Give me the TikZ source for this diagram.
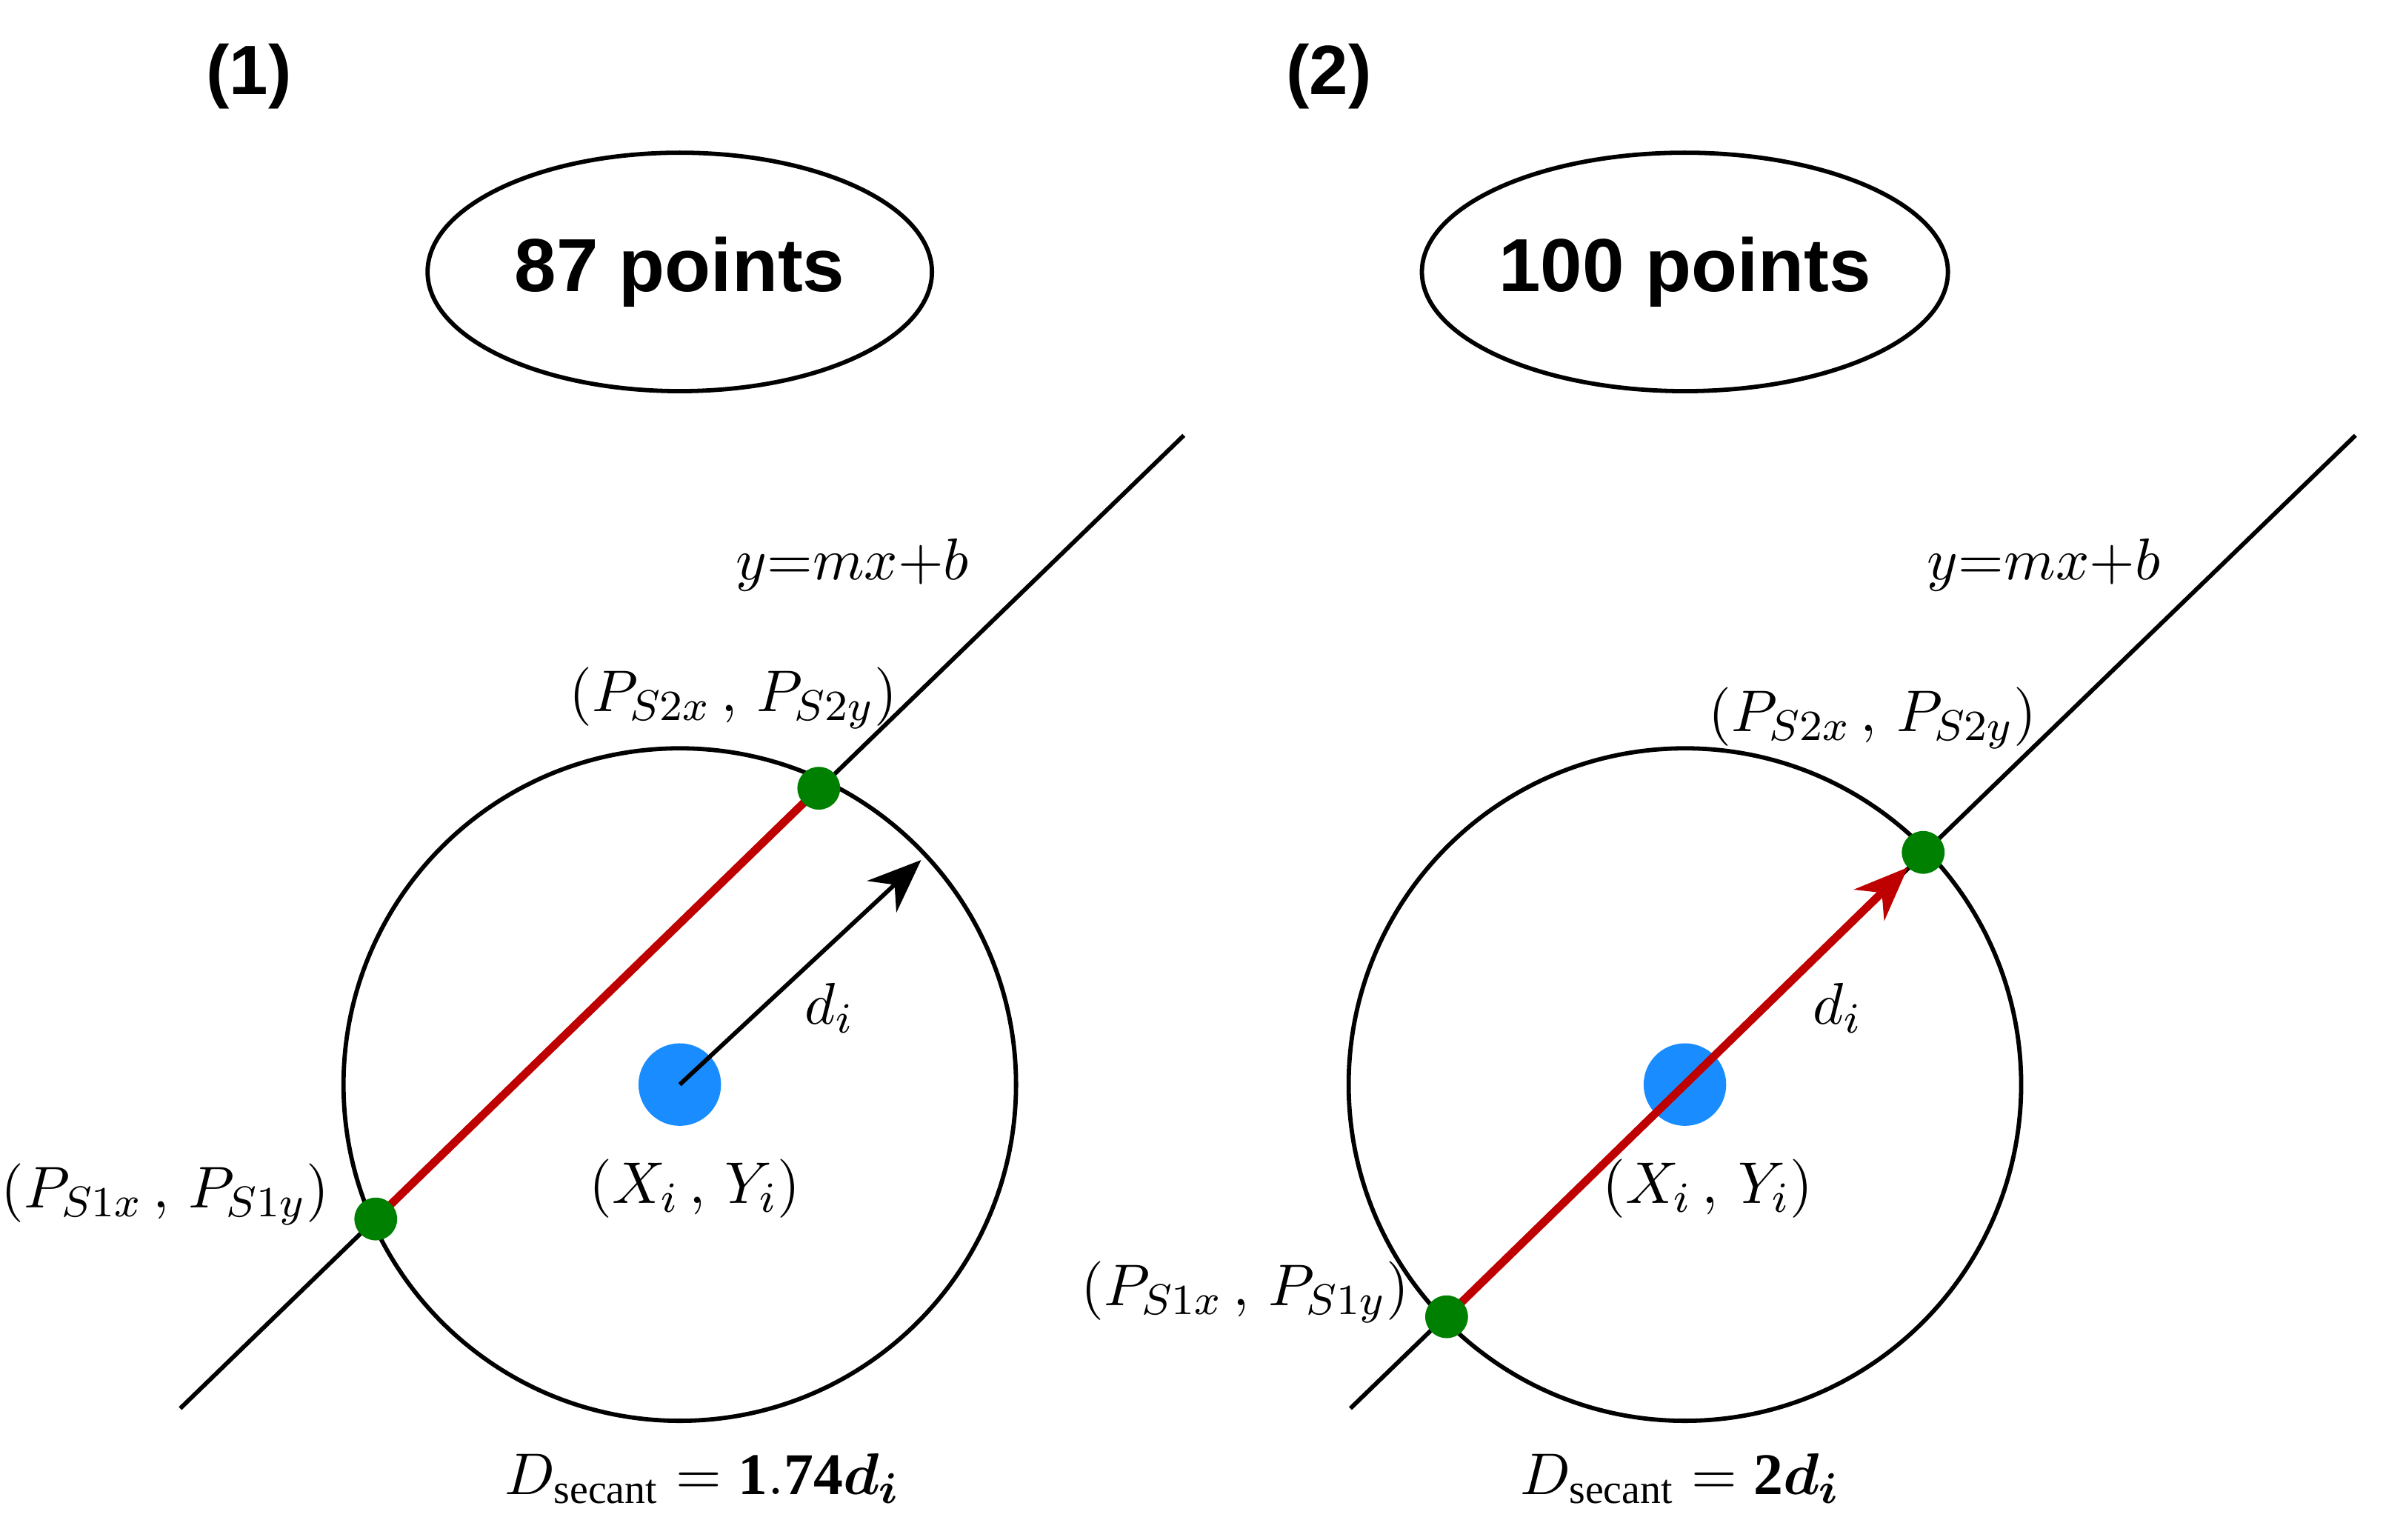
\documentclass[tikz,border=0pt]{standalone}
\usepackage{amsmath}
\usepackage{fontspec}
\setmainfont{Liberation Serif}
\newfontfamily\sansb{Liberation Sans}
\usetikzlibrary{arrows.meta,shapes.geometric}
\begin{document}
\begin{tikzpicture}[x=0.01cm,y=-0.01cm,
  lbl/.style={font=\fontsize{11}{13}\selectfont},
  ttl/.style={font=\sansb\bfseries\fontsize{13}{15}\selectfont},
  oval/.style={draw,ellipse,minimum width=3.3cm,minimum height=1.56cm,inner sep=0,line width=0.8pt,font=\sansb\bfseries\fontsize{14}{16}\selectfont},
  gdot/.style={circle,fill=green!50!black,minimum size=0.28cm,inner sep=0},
  bdot/.style={circle,fill=blue!50!cyan!90!white,minimum size=0.54cm,inner sep=0},
  bigc/.style={draw,circle,minimum size=4.4cm,line width=0.8pt},
  red/.style={draw=red!75!black,line width=1.5pt}]
\useasboundingbox (0,0) rectangle (1560,1008);
% panel 1
\node[ttl] (t1) at (163,50) {(1)};
\node[oval] (e1) at (445,178) {87 points};
\node[bigc] (c1) at (445,710) {};
\coordinate (a1) at (118,922); \coordinate (b1) at (775,285);
\draw[line width=0.8pt] (a1) -- (b1);
\coordinate (p1) at (246,798);
\coordinate (q1) at (536,516);
\draw[red] (p1) -- (q1);
\node[gdot] at (p1) {}; \node[gdot] at (q1) {};
\node[bdot] (o1) at (445,710) {};
\coordinate (r1) at (603,563);
\draw[line width=0.8pt,-{Stealth[length=10pt,width=8pt]}] (o1.center) -- (r1);
\node[lbl] at (543,660) {$d_i$};
\node[lbl] at (455,778) {$(X_i\,,\,Y_i)$};
\node[lbl] at (558,370) {$y{=}mx{+}b$};
\node[lbl] at (480,457) {$(P_{S2x}\,,\,P_{S2y})$};
\node[lbl] at (108,782) {$(P_{S1x}\,,\,P_{S1y})$};
\node[lbl] at (460,968) {$D_{\mathrm{secant}}=\mathbf{1.74}\boldsymbol{d_i}$};
% panel 2
\node[ttl] (t2) at (870,50) {(2)};
\node[oval] (e2) at (1103,178) {100 points};
\node[bigc] (c2) at (1103,710) {};
\coordinate (a2) at (884,922); \coordinate (b2) at (1542,285);
\draw[line width=0.8pt] (a2) -- (b2);
\node[bdot] (o2) at (1103,710) {};
\coordinate (p2) at (947,862);
\coordinate (q2) at (1259,558);
\draw[red,-{Stealth[length=10pt,width=8pt]},shorten >=4pt] (p2) -- (q2);
\node[gdot] at (p2) {}; \node[gdot] at (q2) {};
\node[lbl] at (1203,660) {$d_i$};
\node[lbl] at (1118,778) {$(X_i\,,\,Y_i)$};
\node[lbl] at (1338,370) {$y{=}mx{+}b$};
\node[lbl] at (1226,470) {$(P_{S2x}\,,\,P_{S2y})$};
\node[lbl] at (815,846) {$(P_{S1x}\,,\,P_{S1y})$};
\node[lbl] at (1100,968) {$D_{\mathrm{secant}}=\mathbf{2}\boldsymbol{d_i}$};
\end{tikzpicture}
\end{document}
